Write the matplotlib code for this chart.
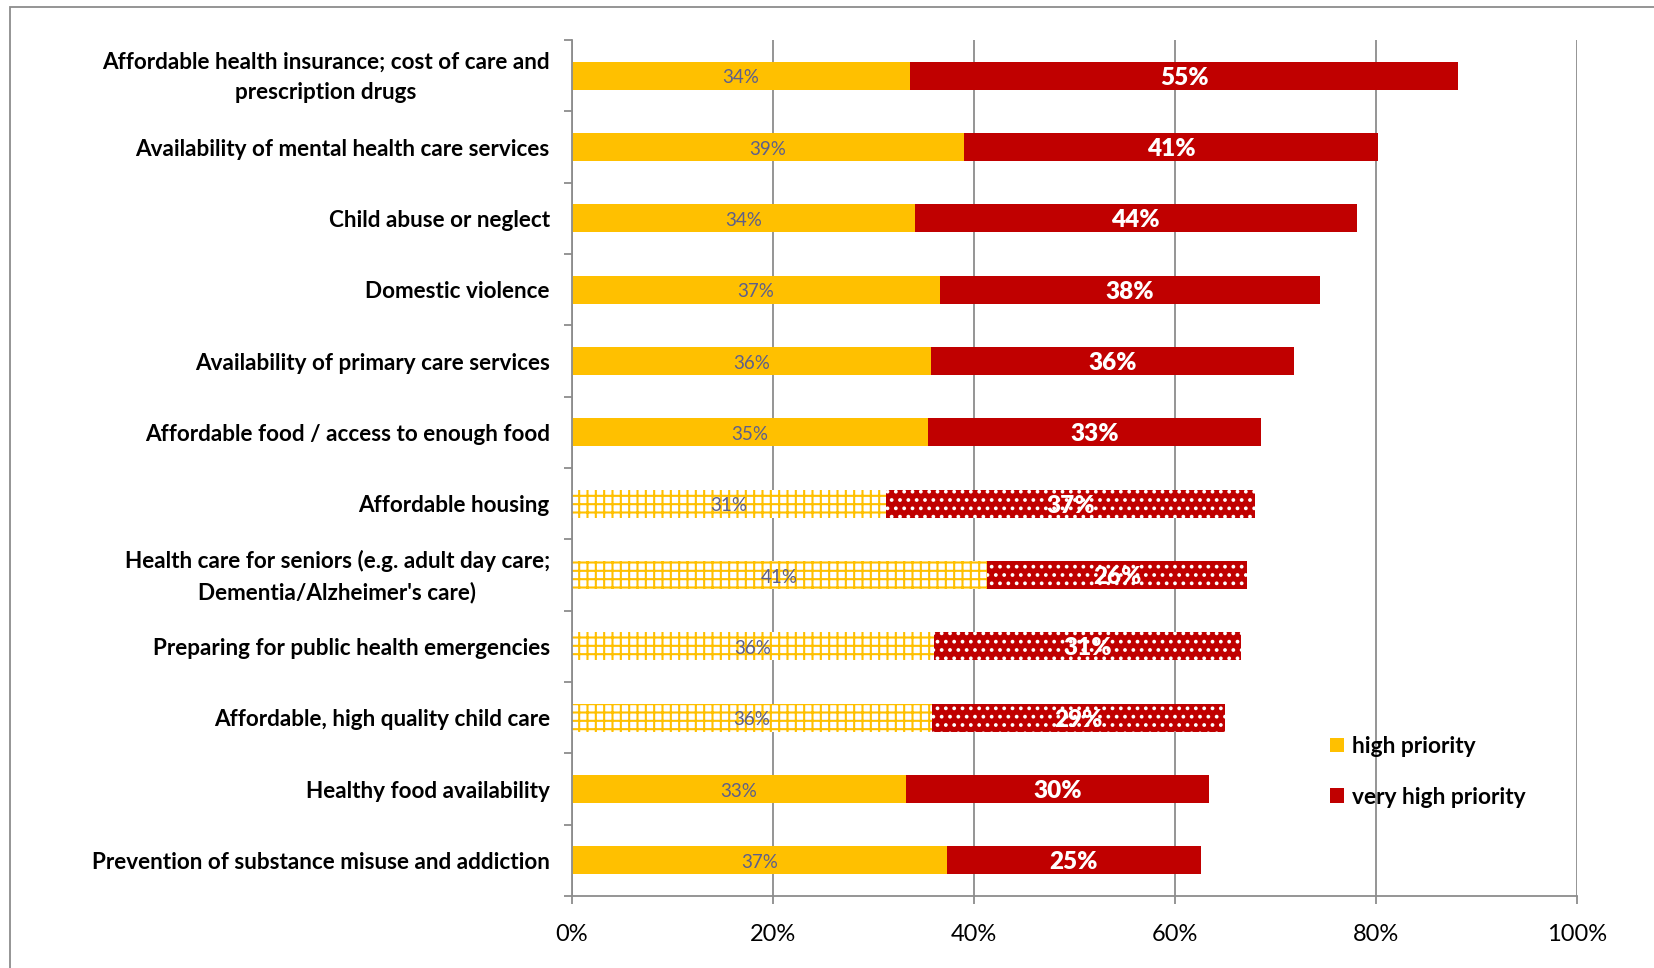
import matplotlib.pyplot as plt
from matplotlib.patches import Patch, Rectangle
from matplotlib.transforms import ScaledTranslation
import numpy as np

# dados (de cima para baixo)
categorias = [
    'Affordable health insurance; cost of care and\nprescription drugs',
    'Availability of mental health care services',
    'Child abuse or neglect',
    'Domestic violence',
    'Availability of primary care services',
    'Affordable food / access to enough food',
    'Affordable housing',
    "Health care for seniors (e.g. adult day care;\nDementia/Alzheimer's care)",
    'Preparing for public health emergencies',
    'Affordable, high quality child care',
    'Healthy food availability',
    'Prevention of substance misuse and addiction',
]
high_priority = [33.6, 39.0, 34.1, 36.6, 35.7, 35.4, 31.2, 41.3, 36.0, 35.8, 33.2, 37.3]
very_high_priority = [54.6, 41.2, 44.0, 37.8, 36.1, 33.2, 36.8, 25.9, 30.6, 29.2, 30.2, 25.3]
xticks_val = [0, 20, 40, 60, 80, 100]
xticks_lbl = ['0%', '20%', '40%', '60%', '80%', '100%']

# categorias com barra hachurada
hachuradas = {categorias[6], categorias[7], categorias[8], categorias[9]}

AMARELO = '#FFC000'
VERMELHO = '#C00000'
CINZA = '#8c8c8c'
COR_ROTULO = '#5c5f8c'

plt.rcParams['font.family'] = ['Lato', 'DejaVu Sans']
plt.rcParams['hatch.linewidth'] = 1.5

fig = plt.figure(figsize=(16.54, 9.68), dpi=100)
ax = fig.add_axes([572 / 1654, 1 - 896 / 968, 1005 / 1654, 856 / 968])

n = len(categorias)
y = np.arange(n)
h = 0.39

for i, cat in enumerate(categorias):
    hp, vh = high_priority[i], very_high_priority[i]
    if cat in hachuradas:
        ax.barh(i, hp, height=h, color='white', edgecolor=AMARELO, hatch='++', linewidth=0)
        ax.barh(i, vh, left=hp, height=h, color=VERMELHO, edgecolor='white', hatch='..', linewidth=0)
    else:
        ax.barh(i, hp, height=h, color=AMARELO, linewidth=0)
        ax.barh(i, vh, left=hp, height=h, color=VERMELHO, linewidth=0)
    ax.text(hp / 2, i + 0.03, f'{hp:.0f}%', ha='center', va='center', fontsize=13.5, color=COR_ROTULO)
    ax.text(hp + vh / 2, i + 0.03, f'{vh:.0f}%', ha='center', va='center', fontsize=17.5,
            fontweight='heavy', color='white')

ax.set_xlim(0, 100)
ax.set_ylim(n - 0.5, -0.5)
ax.set_xticks(xticks_val)
ax.set_xticklabels(xticks_lbl, fontsize=17)
ax.set_yticks(y)
ax.set_yticklabels(categorias, fontsize=16.2, fontweight='bold')
ax.set_yticks(np.arange(-0.5, n, 1), minor=True)
ax.tick_params(axis='y', which='major', length=0, pad=16)
ax.tick_params(axis='y', which='minor', length=6, width=1.3, color=CINZA)
ax.tick_params(axis='x', length=6, width=1.3, color=CINZA, pad=14)

for t in ax.get_yticklabels():
    t.set_multialignment('center')
    t.set_linespacing(1.55)
    if '\n' in t.get_text():
        # rótulos de duas linhas ficam um pouco acima do centro
        t.set_transform(t.get_transform() + ScaledTranslation(0, 3.8 / 72, fig.dpi_scale_trans))

for s in ['top', 'right']:
    ax.spines[s].set_visible(False)
for s in ['left', 'bottom']:
    ax.spines[s].set_color(CINZA)
    ax.spines[s].set_linewidth(1.3)

ax.grid(axis='x', color=CINZA, linewidth=1.3)
ax.set_axisbelow(True)

# legenda
handles = [Patch(facecolor=AMARELO, label='high priority'),
           Patch(facecolor=VERMELHO, label='very high priority')]
fig.legend(handles=handles, loc='upper left', bbox_to_anchor=(1330 / 1654, 1 - 736 / 968),
           frameon=False, prop={'size': 16.4, 'weight': 'bold'}, handlelength=0.62,
           handleheight=0.62, handletextpad=0.35, labelspacing=1.3, borderpad=0,
           borderaxespad=0)

# moldura externa
fig.patches.append(Rectangle((10 / 1654, -0.1), 1.2, 1.1 - 7 / 968, transform=fig.transFigure,
                             fill=False, edgecolor=CINZA, linewidth=1.3))

plt.savefig('out.png', dpi=100)
